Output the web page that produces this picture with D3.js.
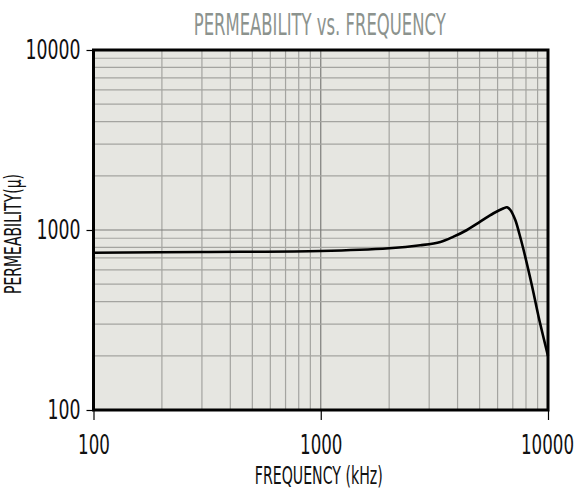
<!DOCTYPE html>
<html>
<head>
<meta charset="utf-8">
<script src="https://cdn.jsdelivr.net/npm/d3@7"></script>
<style>
  body { margin: 0; background: #fff; }
  text { font-family: "Liberation Sans Narrow", "DejaVu Sans Condensed", sans-serif; }
</style>
</head>
<body>
<div id="chart"></div>
<script>
// data
const frequency = [100, 300, 1000, 2000, 2740, 3360, 3840, 4400, 5030, 5760, 6380, 6600, 6830, 7180, 7470, 7810, 8500, 9090, 10000];
const permeability = [748, 755, 764, 791, 822, 858, 918, 1000, 1112, 1239, 1321, 1337, 1292, 1136, 959, 774, 490, 330, 200];
const xTicks = [100, 1000, 10000];
const yTicks = [100, 1000, 10000];

const width = 579;
const height = 491;
const margin = {top: 50, right: 31, bottom: 81, left: 93.5};
const mainWidth = width - margin.left - margin.right;
const mainHeight = height - margin.top - margin.bottom;

const svg = d3.select("#chart").append("svg")
    .attr("width", width)
    .attr("height", height);

const x = d3.scaleLog().domain([100, 10000]).range([0, mainWidth]);
const y = d3.scaleLog().domain([100, 10000]).range([mainHeight, 0]);

const mainChart = svg.append("g")
    .attr("transform", `translate(${margin.left} ${margin.top})`);

mainChart.append("rect")
    .attr("width", mainWidth)
    .attr("height", mainHeight)
    .attr("fill", "#e6e6e1");

// grid lines, 1..9 per decade
let gridVals = [];
for (let dec of [100, 1000]) {
    for (let k = 1; k < 10; k++) gridVals.push(dec * k);
}

mainChart.selectAll(".vgrid")
    .data(gridVals)
    .join("line")
    .attr("class", "vgrid")
    .attr("x1", d => x(d)).attr("x2", d => x(d))
    .attr("y1", 0).attr("y2", mainHeight)
    .attr("stroke", d => xTicks.includes(d) ? "#7c7c7a" : "#a4a4a0")
    .attr("stroke-width", 1.2);

mainChart.selectAll(".hgrid")
    .data(gridVals)
    .join("line")
    .attr("class", "hgrid")
    .attr("x1", 0).attr("x2", mainWidth)
    .attr("y1", d => y(d)).attr("y2", d => y(d))
    .attr("stroke", d => yTicks.includes(d) ? "#7c7c7a" : "#a4a4a0")
    .attr("stroke-width", 1.2);

// curve
const points = frequency.map((f, i) => [x(f), y(permeability[i])]);
mainChart.append("path")
    .datum(points)
    .attr("d", d3.line().curve(d3.curveCatmullRom.alpha(0.5)))
    .attr("fill", "none")
    .attr("stroke", "#000")
    .attr("stroke-width", 2.6)
    .attr("stroke-linejoin", "round");

// frame
mainChart.append("rect")
    .attr("width", mainWidth)
    .attr("height", mainHeight)
    .attr("fill", "none")
    .attr("stroke", "#000")
    .attr("stroke-width", 3);

// axes
const xAxis = mainChart.append("g")
    .attr("transform", `translate(0 ${mainHeight})`)
    .call(d3.axisBottom(x).tickValues(xTicks).tickFormat(d3.format("d")).tickSize(10).tickPadding(15));

const yAxis = mainChart.append("g")
    .call(d3.axisLeft(y).tickValues(yTicks).tickFormat(d3.format("d")).tickSize(7).tickPadding(6));

[xAxis, yAxis].forEach(ax => {
    ax.select(".domain").remove();
    ax.selectAll(".tick line").attr("stroke", "#000").attr("stroke-width", 1.2);
    ax.selectAll(".tick text")
        .attr("fill", "#111")
        .style("font-size", "27px")
        .attr("font-family", null);
});
xAxis.selectAll(".tick text")
    .attr("textLength", d => String(d).length * 10.6)
    .attr("lengthAdjust", "spacingAndGlyphs");
xAxis.selectAll(".tick text").filter(d => d === 10000).attr("dx", -1);
yAxis.selectAll(".tick text")
    .attr("textLength", d => String(d).length * 11)
    .attr("lengthAdjust", "spacingAndGlyphs");

// labels
svg.append("text")
    .attr("x", margin.left + x(1000) - 1)
    .attr("y", 35)
    .attr("text-anchor", "middle")
    .attr("fill", "#8c938e")
    .style("font-size", "30px")
    .attr("textLength", 252)
    .attr("lengthAdjust", "spacingAndGlyphs")
    .text("PERMEABILITY vs. FREQUENCY");

svg.append("text")
    .attr("x", margin.left + x(1000) - 2)
    .attr("y", 484)
    .attr("text-anchor", "middle")
    .attr("fill", "#111")
    .style("font-size", "24px")
    .attr("textLength", 128)
    .attr("lengthAdjust", "spacingAndGlyphs")
    .text("FREQUENCY (kHz)");

svg.append("text")
    .attr("transform", `translate(21 234) rotate(-90)`)
    .attr("text-anchor", "middle")
    .attr("fill", "#111")
    .style("font-size", "23px")
    .attr("textLength", 120)
    .attr("lengthAdjust", "spacingAndGlyphs")
    .text("PERMEABILITY(µ)");
</script>
</body>
</html>
